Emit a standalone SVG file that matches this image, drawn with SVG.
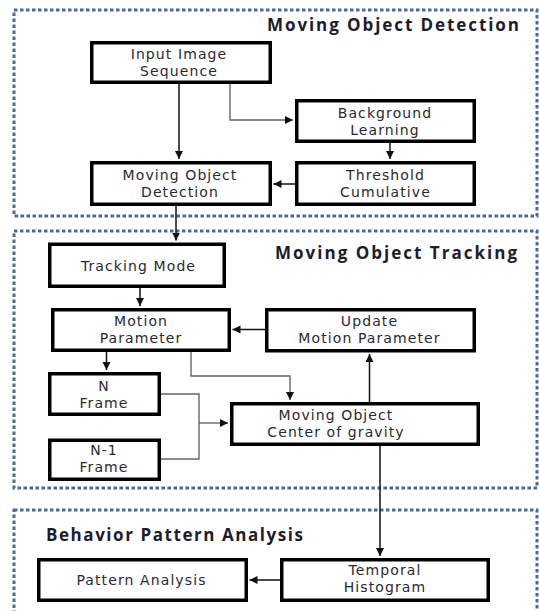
<svg xmlns="http://www.w3.org/2000/svg" width="539" height="611" viewBox="0 0 539 611">
<defs>
<marker id="ah" markerUnits="userSpaceOnUse" markerWidth="9" markerHeight="9" refX="8" refY="4" orient="auto">
<path d="M0,0 L8,4 L0,8 z" fill="#111"/>
</marker>
<style>
.grp{fill:none;stroke:#4a6a9c;stroke-width:3;stroke-dasharray:3.5 2.5}
.box{fill:#fff;stroke:#000;stroke-width:3.5}
.lbl{font-family:"DejaVu Sans",sans-serif;font-size:14px;fill:#2a2838;text-anchor:middle;letter-spacing:1.1px}
.ttl{font-family:"Open Sans",sans-serif;font-weight:bold;font-size:17px;fill:#1c1c2c}
.c{fill:none;stroke:#111;stroke-width:1.5}
.g{fill:none;stroke:#666;stroke-width:1.4}
</style>
</defs>
<rect class="grp" x="14" y="10" width="523" height="206"/>
<rect class="grp" x="14" y="231" width="523" height="257"/>
<rect class="grp" x="14" y="510" width="523" height="120"/>
<text class="ttl" x="267" y="31" textLength="252" lengthAdjust="spacing">Moving Object Detection</text>
<text class="ttl" x="275" y="259" textLength="242" lengthAdjust="spacing">Moving Object Tracking</text>
<text class="ttl" x="46" y="540.5" textLength="257" lengthAdjust="spacing">Behavior Pattern Analysis</text>
<g id="connectors">
<path class="c" d="M179,84 V159" marker-end="url(#ah)"/>
<path class="g" d="M230,84 V120 H293" marker-end="url(#ah)"/>
<path class="c" d="M390,143 V159" marker-end="url(#ah)"/>
<path class="c" d="M295,184 H273.5" marker-end="url(#ah)"/>
<path class="c" d="M176,206 V240.5" marker-end="url(#ah)"/>
<path class="c" d="M140,288 V306" marker-end="url(#ah)"/>
<path class="c" d="M265,329.5 H232.5" marker-end="url(#ah)"/>
<path class="c" d="M106.5,352 V370" marker-end="url(#ah)"/>
<path class="g" d="M191,352 V376 H290 V400" marker-end="url(#ah)"/>
<path class="g" d="M161,394 H199 V459 H161"/>
<path class="g" d="M199,423 H228" marker-end="url(#ah)"/>
<path class="c" d="M369.5,402 V354" marker-end="url(#ah)"/>
<path class="c" d="M380,446 V556" marker-end="url(#ah)"/>
<path class="c" d="M280,580 H249.5" marker-end="url(#ah)"/>
</g>
<g id="input"><rect class="box" x="91.75" y="42.75" width="178.5" height="39.5"/><text class="lbl" x="179" y="59">Input Image</text><text class="lbl" x="179" y="76">Sequence</text></g>
<g id="background"><rect class="box" x="296.75" y="100.75" width="177.5" height="40.5"/><text class="lbl" x="385" y="117.5">Background</text><text class="lbl" x="385" y="134.5">Learning</text></g>
<g id="detection"><rect class="box" x="91.75" y="162.75" width="178.5" height="41.5"/><text class="lbl" x="180" y="180">Moving  Object</text><text class="lbl" x="180" y="197">Detection</text></g>
<g id="threshold"><rect class="box" x="296.75" y="162.75" width="177.5" height="41.5"/><text class="lbl" x="385.5" y="180">Threshold</text><text class="lbl" x="385.5" y="197">Cumulative</text></g>
<g id="tracking"><rect class="box" x="49.75" y="244.25" width="174.5" height="42"/><text class="lbl" x="138.5" y="270.5">Tracking Mode</text></g>
<g id="motion"><rect class="box" x="52.75" y="309.75" width="176.5" height="40.5"/><text class="lbl" x="141" y="325.5">Motion</text><text class="lbl" x="141" y="342.5">Parameter</text></g>
<g id="update"><rect class="box" x="266.75" y="309.75" width="207.5" height="41"/><text class="lbl" x="369.5" y="325.5">Update</text><text class="lbl" x="369.5" y="342.5">Motion  Parameter</text></g>
<g id="nframe"><rect class="box" x="49.75" y="373.75" width="109.5" height="40.5"/><text class="lbl" x="104" y="390.5">N</text><text class="lbl" x="104" y="407.5">Frame</text></g>
<g id="n1frame"><rect class="box" x="49.75" y="440.25" width="109.5" height="39"/><text class="lbl" x="104" y="455">N-1</text><text class="lbl" x="104" y="472">Frame</text></g>
<g id="cog"><rect class="box" x="231.75" y="403.75" width="246.5" height="40.5"/><text class="lbl" x="336" y="420">Moving Object</text><text class="lbl" x="336" y="437">Center of gravity</text></g>
<g id="pattern"><rect class="box" x="38.75" y="559.75" width="207.5" height="40.5"/><text class="lbl" x="141.5" y="584.5">Pattern  Analysis</text></g>
<g id="temporal"><rect class="box" x="281.75" y="559.75" width="206.5" height="40.5"/><text class="lbl" x="385" y="575">Temporal</text><text class="lbl" x="385" y="592">Histogram</text></g>
</svg>
